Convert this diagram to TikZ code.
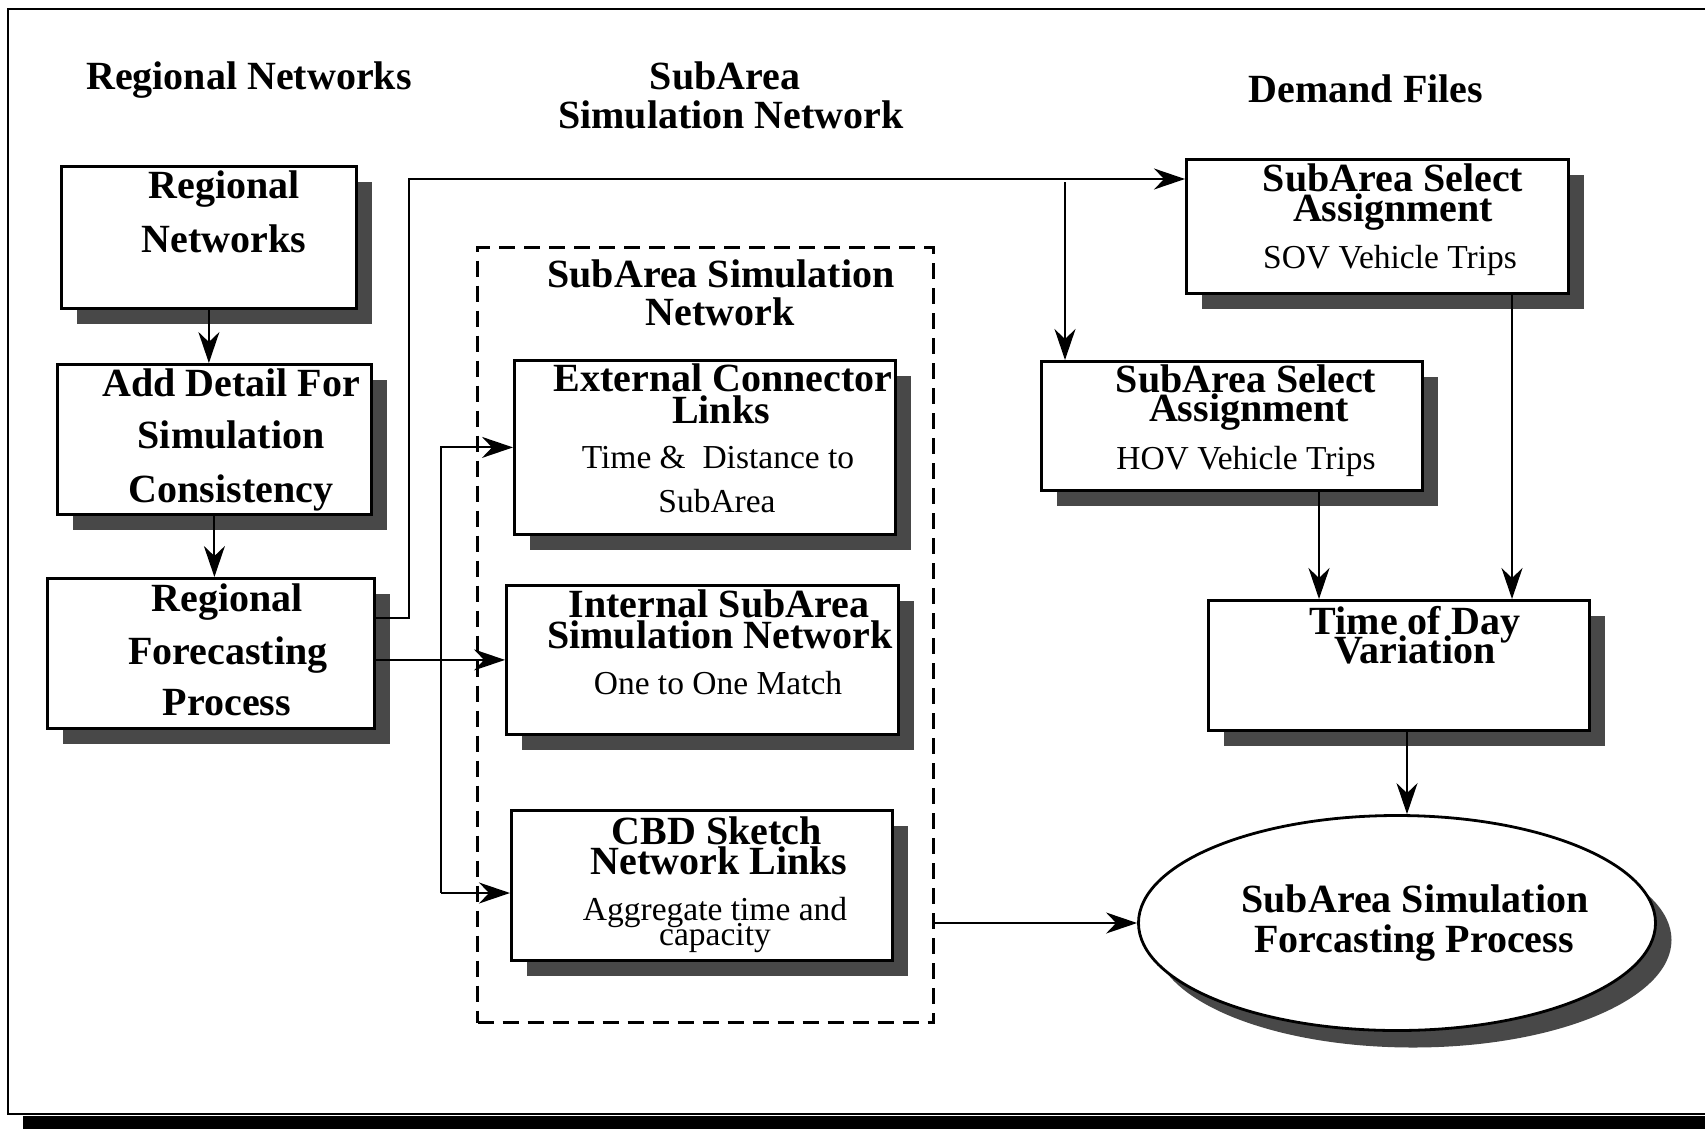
\documentclass[tikz,border=0pt]{standalone}
\usepackage{fontspec}
\setmainfont{Liberation Serif}
\usetikzlibrary{arrows.meta,shadows,shapes.geometric}
\definecolor{shadowgray}{RGB}{72,72,72}
\begin{document}
\begin{tikzpicture}[x=1pt,y=-1pt,
  box/.style={draw, line width=2.8pt, fill=white, rectangle, anchor=north west, inner sep=0pt,
    drop shadow={shadow xshift=16pt, shadow yshift=-16pt, fill=shadowgray, opacity=1}},
  dbox/.style={draw, line width=3pt, dash pattern=on 16pt off 9pt, rectangle, anchor=north west, inner sep=0pt},
  ellbox/.style={draw, line width=2.8pt, fill=white, ellipse, inner sep=0pt,
    drop shadow={shadow xshift=16pt, shadow yshift=-17pt, fill=shadowgray, opacity=1}},
  hd/.style={font=\fontsize{40}{44}\selectfont\bfseries, anchor=base, inner sep=0pt},
  rg/.style={font=\fontsize{33.5}{38}\selectfont, anchor=base, inner sep=0pt},
  arr/.style={line width=2pt, -{Stealth[length=31pt,width=21pt,inset=10pt]}},
  conn/.style={line width=2pt}
]
\useasboundingbox (0,0) rectangle (1705,1128);
\fill[white] (0,0) rectangle (1705,1128);
% outer frame
\draw[line width=2.4pt] (8,9) rectangle (1740,1114);
\fill[black] (23,1116) rectangle (1740,1140);

% headers
\node[hd] (h1) at (249,89) {Regional Networks};
\node[hd] (h2a) at (725,89) {SubArea};
\node[hd] (h2b) at (731,128) {Simulation Network};
\node[hd] (h3) at (1366,102) {Demand Files};

% dashed group
\node[dbox, minimum width=456pt, minimum height=775pt] (grp) at (476,246) {};
\node[hd] (g1) at (721,287) {SubArea Simulation};
\node[hd] (g2) at (720,325) {Network};

% boxes
\node[box, minimum width=295pt, minimum height=142pt] (b1) at (60,165) {};
\node[box, minimum width=314pt, minimum height=150pt] (b2) at (56,363) {};
\node[box, minimum width=327pt, minimum height=150pt] (b3) at (46,577) {};
\node[box, minimum width=381pt, minimum height=174pt] (ext) at (513,359) {};
\node[box, minimum width=392pt, minimum height=149pt] (int) at (505,584) {};
\node[box, minimum width=381pt, minimum height=150pt] (cbd) at (510,809) {};
\node[box, minimum width=382pt, minimum height=134pt] (sov) at (1185,158) {};
\node[box, minimum width=381pt, minimum height=129pt] (hov) at (1040,360) {};
\node[box, minimum width=381pt, minimum height=130pt] (tod) at (1207,599) {};
\node[ellbox, minimum width=517pt, minimum height=215pt] (ell) at (1397,923) {};

% box texts
\node[hd] (b1a) at (224,198) {Regional};
\node[hd] (b1b) at (224,252) {Networks};
\node[hd] (b2a) at (231,396) {Add Detail For};
\node[hd] (b2b) at (231,448) {Simulation};
\node[hd] (b2c) at (231,502) {Consistency};
\node[hd] (b3a) at (227,611) {Regional};
\node[hd] (b3b) at (228,664) {Forecasting};
\node[hd] (b3c) at (227,715) {Process};

\node[hd] (e1) at (723,391) {External Connector};
\node[hd] (e2) at (721,423) {Links};
\node[rg] (e3) at (718,468) {Time \& \ Distance to};
\node[rg] (e4) at (717,512) {SubArea};

\node[hd] (i1) at (719,617) {Internal SubArea};
\node[hd] (i2) at (720,648) {Simulation Network};
\node[rg] (i3) at (718,694) {One to One Match};

\node[hd] (c1t) at (717,844) {CBD Sketch};
\node[hd] (c2t) at (719,874) {Network Links};
\node[rg] (c3t) at (715,920) {Aggregate time and};
\node[rg] (c4t) at (715,945) {capacity};

\node[hd] (s1) at (1393,191) {SubArea Select};
\node[hd] (s2) at (1393,221) {Assignment};
\node[rg] (s3) at (1390,268) {SOV Vehicle Trips};

\node[hd] (v1) at (1246,392) {SubArea Select};
\node[hd] (v2) at (1249,421) {Assignment};
\node[rg] (v3) at (1246,469) {HOV Vehicle Trips};

\node[hd] (t1) at (1415,634) {Time of Day};
\node[hd] (t2) at (1415,663) {Variation};

\node[hd] (l1) at (1415,912) {SubArea Simulation};
\node[hd] (l2) at (1414,952) {Forcasting Process};

% connector helper coordinates
\coordinate (k1) at (409,618);
\coordinate (k2) at (409,179);
\coordinate (k3) at (1065,182);
\coordinate (k5) at (441,893);
\coordinate (k6) at (1319,0);
\coordinate (k7) at (1512,0);
\coordinate (k8) at (1407,0);

% connectors
\draw[arr] (b1.south) -- (b1.south |- b2.north);
\draw[arr] (b2.south) -- (b2.south |- b3.north);
\draw[arr] (b3.east |- k1) -- (k1) -- (k2) -- (sov.west |- k2);
\draw[arr] (k3) -- (k3 |- hov.north);
\draw[arr] (b3.east |- int.west) -- (int.west);
\draw[arr] (k5) |- (ext.west);
\draw[arr] (k5) -- (k5 -| cbd.west);
\draw[arr] (grp.east |- ell.west) -- (ell.west);
\draw[arr] (hov.south -| k6) -- (tod.north -| k6);
\draw[arr] (sov.south -| k7) -- (tod.north -| k7);
\draw[arr] (tod.south -| k8) -- (k8 |- ell.north);
\end{tikzpicture}
\end{document}
